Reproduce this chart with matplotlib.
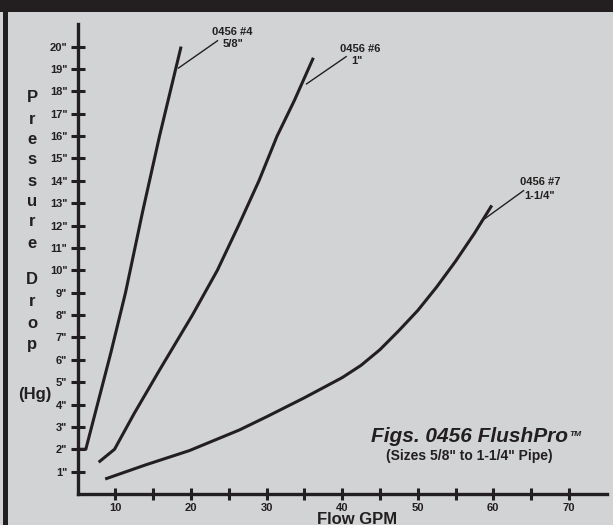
import matplotlib
matplotlib.use("Agg")
import matplotlib.pyplot as plt
from matplotlib.patches import Rectangle
import numpy as np

plt.rcParams['font.family'] = ['Liberation Sans', 'DejaVu Sans']
plt.rcParams['font.weight'] = 'bold'

DARK = '#231f20'
LIGHT = '#d1d3d4'

# ---- data (Flow GPM, Pressure drop in Hg) ----
c4_x = [5.1, 6.1, 9.4, 11.35, 13.6, 15.85, 18.7]
c4_y = [2.0, 2.0, 6.3, 9.0, 12.6, 16.0, 20.0]

c6_x = [7.8, 9.9, 12.5, 15.85, 20.2, 23.5, 26.3, 29.0, 31.4, 33.7, 36.2]
c6_y = [1.42, 2.0, 3.6, 5.54, 8.0, 10.0, 12.0, 14.0, 16.0, 17.6, 19.5]

c7_x = [8.66, 14.0, 19.8, 26.4, 30.0, 35.0, 40.0, 42.5, 45.0, 47.5, 50.0, 52.5, 55.0, 57.5, 59.8]
c7_y = [0.67, 1.3, 1.94, 2.86, 3.45, 4.3, 5.2, 5.75, 6.45, 7.3, 8.2, 9.25, 10.4, 11.65, 12.9]

x_major = [10, 20, 30, 40, 50, 60, 70]
x_minor = [15, 25, 35, 45, 55, 65]
y_ticks = list(range(1, 21))
y_labels = [f'{v}"' for v in y_ticks]

ann_names = ['0456 #4', '0456 #6', '0456 #7']
ann_sizes = ['5/8"', '1"', '1-1/4"']
ann_line_start = [(18.36, 19.04), (35.29, 18.33), (58.44, 12.2)]
ann_line_end = [(23.52, 20.26), (40.54, 19.55), (64.0, 13.56)]
ann_name_pos = [(25.5, 20.63), (42.4, 19.89), (66.24, 13.93)]
ann_size_pos = [(25.6, 20.12), (41.9, 19.36), (66.1, 13.34)]

W, H = 613, 525
fig = plt.figure(figsize=(W / 100, H / 100), dpi=100, facecolor=LIGHT)
fig.patches.append(Rectangle((0, 1 - 12 / H), 1, 12 / H, transform=fig.transFigure,
                             facecolor=DARK, edgecolor='none', zorder=0))
fig.patches.append(Rectangle((3 / W, 0), 5 / W, 1, transform=fig.transFigure,
                             facecolor=DARK, edgecolor='none', zorder=0))

ax = fig.add_axes([77.5 / W, (H - 494) / H, 529.2 / W, 469.8 / H])
ax.set_facecolor('none')
ax.set_xlim(5, 75)
ax.set_ylim(0, 21)

for s in ['top', 'right']:
    ax.spines[s].set_visible(False)
for s in ['left', 'bottom']:
    ax.spines[s].set_linewidth(2.4)
    ax.spines[s].set_color(DARK)
    ax.spines[s].set_capstyle('projecting')

ax.set_xticks(x_major)
ax.set_xticklabels([str(v) for v in x_major])
ax.set_xticks(x_minor, minor=True)
ax.set_yticks(y_ticks)
ax.set_yticklabels(y_labels)
ax.tick_params(axis='x', which='both', direction='inout', length=8.5, width=2.2,
               color=DARK, labelsize=8, labelcolor=DARK, pad=2)
ax.tick_params(axis='y', which='both', direction='inout', length=10.5, width=2.2,
               color=DARK, labelsize=8, labelcolor=DARK, pad=2)
for lbl in ax.get_xticklabels() + ax.get_yticklabels():
    lbl.set_fontweight('bold')

for xs, ys in [(c4_x, c4_y), (c6_x, c6_y), (c7_x, c7_y)]:
    ax.plot(xs, ys, color=DARK, lw=2.2, solid_capstyle='butt', solid_joinstyle='round',
            clip_on=False)

for i in range(3):
    (x0, y0), (x1, y1) = ann_line_start[i], ann_line_end[i]
    ax.plot([x0, x1], [y0, y1], color=DARK, lw=1.0, clip_on=False)
    ax.text(*ann_name_pos[i], ann_names[i], ha='center', va='center', fontsize=8,
            color=DARK, fontweight='bold', clip_on=False)
    ax.text(*ann_size_pos[i], ann_sizes[i], ha='center', va='center', fontsize=8,
            color=DARK, fontweight='bold', clip_on=False)

def px(x, y):
    return x / W, 1 - y / H

# vertical stacked axis title
letters1 = list('Pressure')
ys1 = [98, 119, 140, 160, 181, 202, 222, 243]
for ch, yy in zip(letters1, ys1):
    fig.text(*px(32, yy), ch, ha='center', va='center', fontsize=12, fontweight='bold', color=DARK)
letters2 = list('Drop')
ys2 = [280, 302, 323, 344]
for ch, yy in zip(letters2, ys2):
    fig.text(*px(32, yy), ch, ha='center', va='center', fontsize=12, fontweight='bold', color=DARK)
fig.text(*px(35, 395), '(Hg)', ha='center', va='center', fontsize=12, fontweight='bold', color=DARK)

fig.text(*px(357, 519), 'Flow GPM', ha='center', va='center', fontsize=12, fontweight='bold', color=DARK)

title = fig.text(*px(371, 437), 'Figs. 0456 FlushPro', ha='left', va='center', fontsize=15,
                 fontweight='bold', fontstyle='italic', color=DARK)
fig.canvas.draw()
bb = title.get_window_extent()
fig.text((bb.x1 + 1) / W, 1 - 435 / H, 'TM', ha='left', va='center', fontsize=6,
         fontweight='bold', fontstyle='italic', color=DARK)
fig.text(*px(469, 456), '(Sizes 5/8" to 1-1/4" Pipe)', ha='center', va='center', fontsize=10,
         fontweight='bold', color=DARK)

fig.savefig('out.png', dpi=100, facecolor=LIGHT)
